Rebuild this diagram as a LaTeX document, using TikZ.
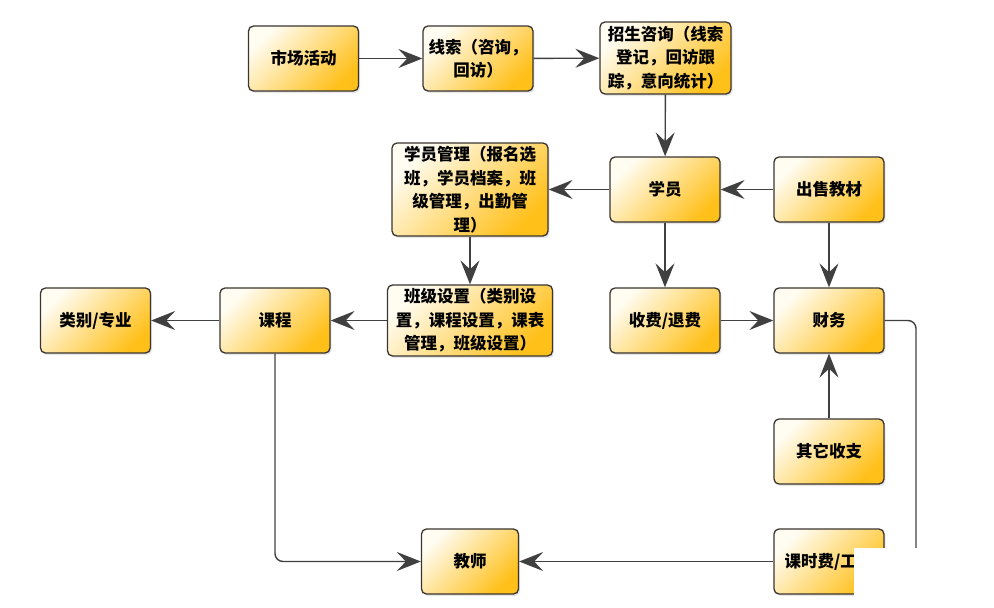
\documentclass[tikz,border=0pt]{standalone}
\usepackage{fontspec}
\setmainfont{Noto Sans CJK SC}
\usepackage{xcolor}
\usetikzlibrary{arrows.meta, shadows, positioning}

\definecolor{boxline}{HTML}{3A3530}
\definecolor{boxlight}{HTML}{FFFCF2}
\definecolor{boxgold}{HTML}{FFC01A}
\definecolor{linegray}{HTML}{404040}

\begin{document}
\begin{tikzpicture}[x=1pt, y=-1pt, >={Stealth[length=24pt, width=19pt, inset=9pt]}]
    \tikzset{
        block/.style={rectangle, draw=boxline, line width=1.3pt, rounded corners=5pt,
            top color=boxlight, bottom color=boxgold, shading angle=45,
            drop shadow={shadow xshift=1.5pt, shadow yshift=-2pt, opacity=0.2},
            minimum width=110pt, minimum height=65pt, inner xsep=3pt, inner ysep=0pt,
            align=center, font=\bfseries\fontsize{16.5}{23.5}\selectfont},
        line/.style={draw=linegray, line width=1.4pt, ->}
    }
    \useasboundingbox (0,0) rectangle (994,608);

    % top row
    \node (Market) [block] at (303.5,58.5) {市场活动};
    \node (Lead) [block] at (478,58.5) {线索（咨询，\\回访）};
    \node (Enrol) [block, minimum width=131pt, minimum height=72pt] at (665.5,58) {招生咨询（线索\\登记，回访跟\\踪，意向统计）};

    % students
    \node (StuMgmt) [block, minimum width=156pt, minimum height=93pt] at (470,189.5) {学员管理（报名选\\班，学员档案，班\\级管理，出勤管\\理）};
    \node (Student) [block] at (665,189.5) {学员};
    \node (Books) [block] at (829,189.5) {出售教材};

    % classes and money
    \node (Category) [block] at (95.5,320.5) {类别/专业};
    \node (Course) [block] at (275,320.5) {课程};
    \node (ClassSet) [block, minimum width=165pt, minimum height=71pt] at (470,320.5) {班级设置（类别设\\置，课程设置，课表\\管理，班级设置）};
    \node (Fee) [block] at (665,320.5) {收费/退费};
    \node (Finance) [block] at (829,320.5) {财务};
    \node (Other) [block] at (829,451.5) {其它收支};

    % bottom row
    \node (Teacher) [block, minimum width=97pt] at (470,561.5) {教师};
    \node (Pay) [block] at (829,561.5) {课时费/工\phantom{资}};

    \coordinate (FinRight) at (916,320.5);

    \path [line] (Market) -- (Lead);
    \path [line] (Lead) -- (Enrol);
    \path [line] (Enrol) -- (Student);
    \path [line] (Student) -- (StuMgmt);
    \path [line] (Books) -- (Student);
    \path [line] (StuMgmt) -- (ClassSet);
    \path [line] (ClassSet) -- (Course);
    \path [line] (Course) -- (Category);
    \path [line] (Student) -- (Fee);
    \path [line] (Books) -- (Finance);
    \path [line] (Fee) -- (Finance);
    \path [line] (Other) -- (Finance);
    \path [line] (Pay) -- (Teacher);
    \path [line, rounded corners=8pt] (Course.south) |- (Teacher.west);
    \path [line, rounded corners=8pt] (Finance.east) -- (FinRight) |- (Pay.east);

    % cut-off corner
    \fill [white] (854,548) rectangle (994,608);
\end{tikzpicture}
\end{document}
